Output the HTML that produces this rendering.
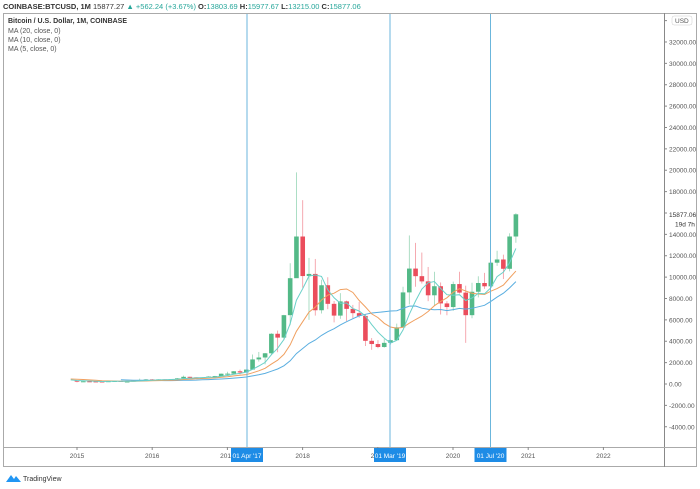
<!DOCTYPE html>
<html><head><meta charset="utf-8"><style>
body{margin:0;background:#fff;width:700px;height:484px;overflow:hidden;font-family:"Liberation Sans",sans-serif}
svg text{font-family:"Liberation Sans",sans-serif}
</style></head><body>
<svg id="s" width="700" height="484" xmlns="http://www.w3.org/2000/svg">
<text x="3" y="9" font-size="7.5" fill="#333" font-weight="bold">COINBASE:BTCUSD, 1M <tspan font-weight="normal">15877.27</tspan> <tspan fill="#26a69a" font-weight="normal">▲ +562.24 (+3.67%)</tspan> O:<tspan fill="#26a69a" font-weight="normal">13803.69</tspan> H:<tspan fill="#26a69a" font-weight="normal">15977.67</tspan> L:<tspan fill="#26a69a" font-weight="normal">13215.00</tspan> C:<tspan fill="#26a69a" font-weight="normal">15877.06</tspan></text>
<rect x="3.5" y="13.5" width="693" height="453" fill="none" stroke="#aaa"/>
<line x1="664.5" y1="13" x2="664.5" y2="467" stroke="#888"/>
<line x1="3" y1="447.5" x2="697" y2="447.5" stroke="#aaa"/>
<text x="8" y="23" font-size="7" fill="#333" font-weight="bold">Bitcoin / U.S. Dollar, 1M, COINBASE</text>
<text x="8" y="33" font-size="7" fill="#555">MA (20, close, 0)</text>
<text x="8" y="42" font-size="7" fill="#555">MA (10, close, 0)</text>
<text x="8" y="51" font-size="7" fill="#555">MA (5, close, 0)</text>
<g id="g"></g>
<g transform="translate(6,474)"><path d="M0 8 L5 1 L8 5 L10 2 L15 8 Z" fill="#2196f3"/><text x="17" y="7" font-size="7" fill="#333">TradingView</text></g>
</svg>
<script>
var g=document.getElementById('g'),h='';
function Y(v){return 384-v*0.010688}
function X(i){return 77+(i-12)*6.27}
var c14=[940,550,460,445,630,640,585,480,390,340,380,320];
var d=[[320,217,320,152],[217,254,265,212],[254,244,300,240],[244,236,260,215],[236,230,248,228],[230,263,268,220],[263,284,318,253],[284,230,284,195],[230,236,246,225],[236,314,334,234],[314,377,500,310],[377,430,470,340],
[430,368,465,356],[368,437,445,365],[437,416,440,400],[416,448,470,412],[448,531,560,440],[531,673,780,520],[673,624,680,470],[624,573,630,540],[573,609,630,570],[609,700,740,605],[700,742,760,690],[742,963,975,740],
[963,970,1150,750],[970,1190,1210,930],[1190,1080,1350,890],[1080,1348,1350,1080],[1348,2300,2760,1340],[2300,2480,3000,2100],[2480,2875,2900,1840],[2875,4700,4750,2700],[4700,4340,5000,2970],[4340,6440,6470,4100],[6440,9900,11300,5500],[9900,13800,19800,10900],
[13800,10100,17200,9000],[10100,10300,11800,6000],[10300,6900,11700,6400],[6900,9240,9750,6600],[9240,7500,9990,7000],[7500,6400,7770,5760],[6400,7730,8500,6100],[7730,7030,7800,5900],[7030,6630,7400,6150],[6630,6370,7680,6200],[6370,4040,6550,3550],[4040,3740,4300,3200],
[3740,3460,4100,3350],[3460,3850,4200,3400],[3850,4100,4150,3680],[4100,5300,5650,4100],[5300,8570,9100,5300],[8570,10800,13900,7450],[10800,10090,13200,9100],[10090,9600,12300,9400],[9600,8300,10950,7750],[8300,9150,10500,7300],[9150,7540,9500,6500],[7540,7200,7750,6430],
[7200,9350,9580,6850],[9350,8550,10500,8450],[8550,6440,9200,3850],[6440,8630,9470,6150],[8630,9450,10080,8100],[9450,9140,10400,8900],[9140,11350,11450,9000],[11350,11650,12470,11050],[11650,10780,12100,9820],[10780,13800,14100,10540],[13800,15877,15977,13215]];
var cl=c14.concat(d.map(function(a){return a[1]}));
d.forEach(function(a,j){var i=j+12,x=X(i),up=a[1]>=a[0],col=up?'#53b987':'#eb4d5c';
h+='<line x1="'+x+'" x2="'+x+'" y1="'+Y(a[2])+'" y2="'+Y(a[3])+'" stroke="'+col+'" stroke-width="0.8" opacity="0.6"/>';
var t=Y(Math.max(a[0],a[1])),b=Y(Math.min(a[0],a[1]));h+='<rect x="'+(x-2.3)+'" y="'+t+'" width="4.6" height="'+Math.max(1,b-t)+'" fill="'+col+'"/>';});
function ma(n,col){var p='';for(var i=Math.max(n-1,11);i<cl.length;i++){var s=0;for(var k=0;k<n;k++)s+=cl[i-k];p+=(p?'L':'M')+X(i).toFixed(1)+' '+Y(s/n).toFixed(1);}h+='<path d="'+p+'" fill="none" stroke="'+col+'" stroke-width="1"/>';}
ma(20,'#5aaee0');ma(10,'#f0a060');ma(5,'#6ad0c8');
for(var v=-4000;v<=34000;v+=2000){var y=Y(v);h+='<line x1="664" x2="667" y1="'+y+'" y2="'+y+'" stroke="#888"/>';if(v<34000&&v!=16000)h+='<text x="669" y="'+(y+2.5)+'" font-size="6.5" fill="#555">'+v+'.00</text>';}
h+='<rect x="672" y="16" width="20" height="9" rx="2" fill="#fff" stroke="#ccc" stroke-width="0.5"/><text x="675" y="23" font-size="6.5" fill="#555">USD</text>';
h+='<text x="669" y="'+(Y(15877)+2.5)+'" font-size="6.5" fill="#333">15877.06</text><text x="675" y="'+(Y(15877)+12)+'" font-size="6.5" fill="#333">19d 7h</text>';
var yrs=['2015','2016','2017','2018','2019','2020','2021','2022'];
yrs.forEach(function(t,k){var x=77+k*75.2;h+='<line x1="'+x+'" x2="'+x+'" y1="447" y2="450" stroke="#888"/><text x="'+x+'" y="458" font-size="6.5" fill="#555" text-anchor="middle">'+t+'</text>';});
[[247,"01 Apr '17"],[390,"01 Mar '19"],[490.5,"01 Jul '20"]].forEach(function(a){h+='<line x1="'+a[0]+'" x2="'+a[0]+'" y1="14" y2="447" stroke="#6bb6dc" stroke-width="1"/><rect x="'+(a[0]-16)+'" y="448" width="32" height="14" fill="#1e8ce6"/><text x="'+a[0]+'" y="458" font-size="6.5" fill="#fff" text-anchor="middle">'+a[1]+'</text>';});
g.innerHTML=h;
</script>
</body></html>
